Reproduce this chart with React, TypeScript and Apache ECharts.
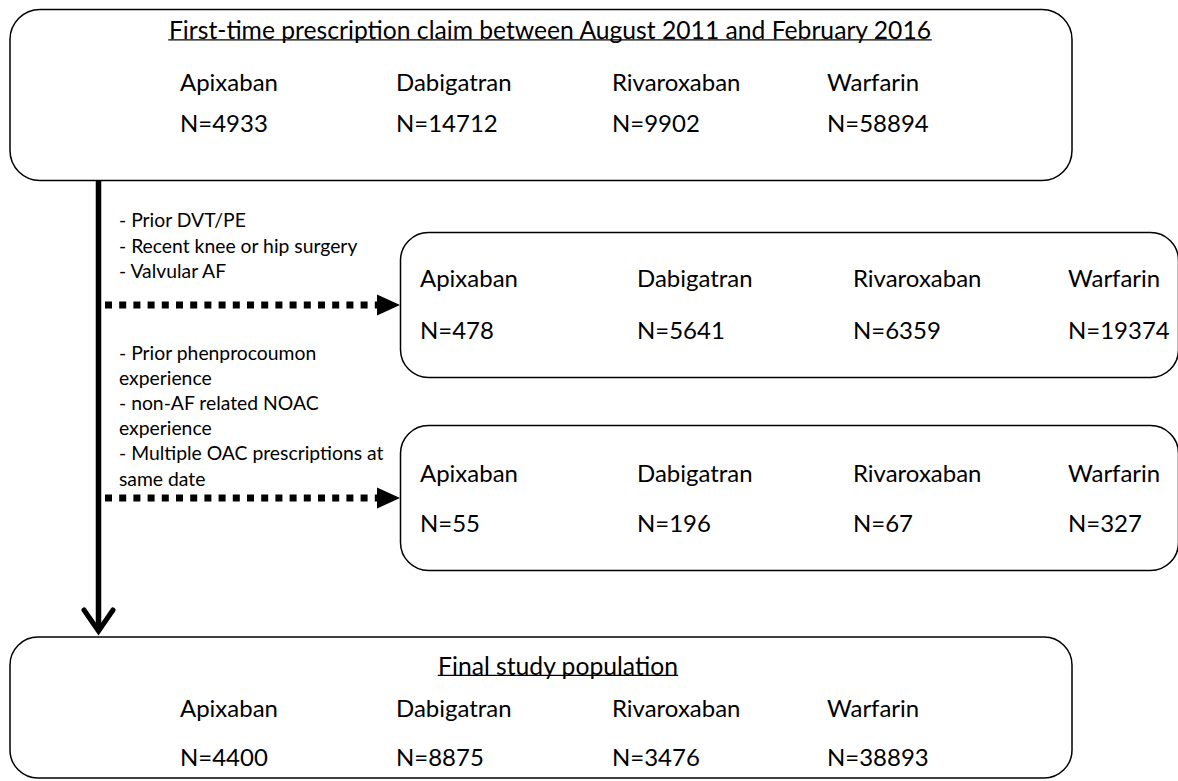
import React, { useEffect, useRef } from "react";
import * as echarts from "echarts";

const drugs = ["Apixaban", "Dabigatran", "Rivaroxaban", "Warfarin"];
const initialN = [4933, 14712, 9902, 58894];
const excl1N = [478, 5641, 6359, 19374];
const excl2N = [55, 196, 67, 327];
const finalN = [4400, 8875, 3476, 38893];
const excl1Reasons = ["- Prior DVT/PE", "- Recent knee or hip surgery", "- Valvular AF"];
const excl2Reasons = [
  "- Prior phenprocoumon",
  "experience",
  "- non-AF related NOAC",
  "experience",
  "- Multiple OAC prescriptions at",
  "same date",
];
const titleTop = "First-time prescription claim between August 2011 and February 2016";
const titleFinal = "Final study population";

const FONT = "Lato";

function measure(text: string, size: number): number {
  const c = document.createElement("canvas");
  const ctx = c.getContext("2d");
  if (!ctx) return text.length * size * 0.5;
  ctx.font = `${size}px ${FONT}`;
  return ctx.measureText(text).width;
}

export default function App() {
  const ref = useRef<HTMLDivElement>(null);
  useEffect(() => {
    document.body.style.margin = "0";
    if (!ref.current) return;
    const chart = echarts.init(ref.current, null, { renderer: "svg" });

    const big = (22 * 98) / measure("Apixaban", 22);
    const small = (16 * 239) / measure("- Recent knee or hip surgery", 16);
    const titleSize = (22 * 764) / measure(titleTop, 22);

    const els: any[] = [];
    const txt = (x: number, y: number, s: string, size: number, align = "left") =>
      els.push({
        type: "text",
        x,
        y,
        style: { text: s, fontFamily: FONT, fontSize: size, fill: "#000", align, verticalAlign: "middle" },
        z: 10,
      });
    const box = (x: number, y: number, w: number, h: number, r: number) =>
      els.push({
        type: "rect",
        shape: { x, y, width: w, height: h, r },
        style: { fill: "#fff", stroke: "#000", lineWidth: 1.5 },
        z: 1,
      });
    const underlineTitle = (cx: number, y: number, s: string, size: number) => {
      txt(cx, y, s, size, "center");
      const w = measure(s, size);
      els.push({
        type: "line",
        shape: { x1: cx - w / 2, y1: y + size * 0.42, x2: cx + w / 2, y2: y + size * 0.42 },
        style: { stroke: "#000", lineWidth: 1.3 },
        z: 10,
      });
    };

    // Boxes
    box(10, 9.5, 1062, 171, 30);
    box(400.5, 232.5, 778, 145, 28);
    box(400.5, 425.5, 778, 145, 28);
    box(10, 637, 1062, 141, 28);

    // Top box
    underlineTitle(550, 29.5, titleTop, titleSize);
    const colTop = [180, 396, 612, 827];
    drugs.forEach((d, i) => {
      txt(colTop[i], 81.5, d, big);
      txt(colTop[i], 122, "N=" + initialN[i], big);
    });

    // Exclusion boxes
    const colEx = [420, 637, 853, 1068];
    drugs.forEach((d, i) => {
      txt(colEx[i], 277.5, d, big);
      txt(colEx[i], 329.5, "N=" + excl1N[i], big);
      txt(colEx[i], 472.5, d, big);
      txt(colEx[i], 522.5, "N=" + excl2N[i], big);
    });

    // Final box
    underlineTitle(558, 665, titleFinal, titleSize);
    drugs.forEach((d, i) => {
      txt(colTop[i], 707.5, d, big);
      txt(colTop[i], 756.5, "N=" + finalN[i], big);
    });

    // Exclusion reasons
    excl1Reasons.forEach((s, i) => txt(119, 219.5 + i * 25.5, s, small));
    excl2Reasons.forEach((s, i) => txt(119, 352 + i * 25.2, s, small));

    // Main vertical arrow
    els.push({
      type: "line",
      shape: { x1: 98.5, y1: 180, x2: 98.5, y2: 630 },
      style: { stroke: "#000", lineWidth: 5.5 },
      z: 5,
    });
    els.push({
      type: "polyline",
      shape: { points: [[84, 610], [98.5, 631], [113, 610]] },
      style: { stroke: "#000", lineWidth: 5, fill: null, lineJoin: "miter", lineCap: "round" },
      z: 5,
    });

    // Dotted arrows
    [305, 498].forEach((y) => {
      els.push({
        type: "line",
        shape: { x1: 105, y1: y, x2: 378, y2: y },
        style: { stroke: "#000", lineWidth: 7, lineDash: [7, 7.2] },
        z: 5,
      });
      els.push({
        type: "polygon",
        shape: { points: [[377, y - 10.5], [400, y], [377, y + 10.5]] },
        style: { fill: "#000" },
        z: 5,
      });
    });

    chart.setOption({
      animation: false,
      backgroundColor: "#fff",
      graphic: { elements: els },
    });
    return () => chart.dispose();
  }, []);
  return <div ref={ref} style={{ position: "fixed", left: 0, top: 0, width: 1178, height: 781 }} />;
}
